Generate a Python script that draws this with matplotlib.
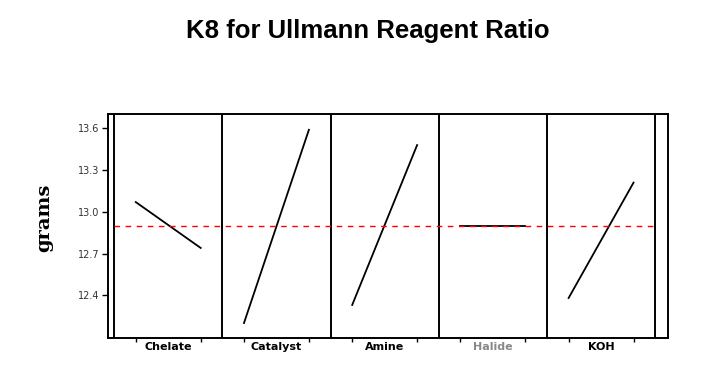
import numpy as np
import matplotlib
matplotlib.use('Agg')
import matplotlib.pyplot as plt

# main effects
factors = ['Chelate', 'Catalyst', 'Amine', 'Halide', 'KOH']
low_level = [13.07, 12.20, 12.33, 12.90, 12.38]
high_level = [12.74, 13.59, 13.48, 12.90, 13.21]
grand_mean = 12.90
yticks = [12.4, 12.7, 13.0, 13.3, 13.6]

# create the figure and the axis
fig = plt.figure(figsize=(7.2, 3.92), dpi=100)
ax = fig.add_axes([0.15, 0.138, 0.778, 0.571])

# each factor gets a panel 3 units wide, levels at 20% and 80%
n = len(factors)
for i in range(n):
    x0 = i * 3
    ax.plot([x0 + 0.6, x0 + 2.4], [low_level[i], high_level[i]], color='black', lw=1.3)

# panel separators
for i in range(n + 1):
    ax.axvline(i * 3, color='black', lw=1.4)

# grand mean reference line
ax.plot([0, n * 3], [grand_mean, grand_mean], color='red', lw=1.0, ls=(0, (4, 4)))

ax.set_xlim(-0.17, n * 3 + 0.36)
ax.set_ylim(12.093, 13.703)

for s in ax.spines.values():
    s.set_linewidth(1.4)

# y axis
ax.set_yticks(yticks)
ax.set_yticklabels(['%.1f' % v for v in yticks], fontsize=7, color='#333333')
ax.tick_params(axis='y', length=4, width=1, direction='out', pad=2)
ax.set_ylabel('grams', family='DejaVu Serif', fontweight='bold', fontsize=14)
ax.yaxis.set_label_coords(-0.097, 0.536)

# x axis: small ticks at the levels, factor names at panel centres
level_pos = []
for i in range(n):
    level_pos += [i * 3 + 0.6, i * 3 + 2.4]
ax.set_xticks(level_pos)
ax.set_xticklabels([''] * len(level_pos))
ax.tick_params(axis='x', length=3, width=1, direction='out')
ax.set_xticks([i * 3 + 1.5 for i in range(n)], minor=True)
ax.set_xticklabels(factors, minor=True, fontsize=8, fontweight='bold')
ax.tick_params(axis='x', which='minor', length=0, pad=3)
for lab in ax.get_xticklabels(minor=True):
    if lab.get_text() == 'Halide':
        lab.set_color('#888888')

# title
fig.text(0.511, 0.92, 'K8 for Ullmann Reagent Ratio', ha='center', va='center',
         fontsize=18.5, fontweight='bold', family=['Liberation Sans Narrow', 'Liberation Sans', 'DejaVu Sans'])

fig.savefig('out.png', dpi=100)
